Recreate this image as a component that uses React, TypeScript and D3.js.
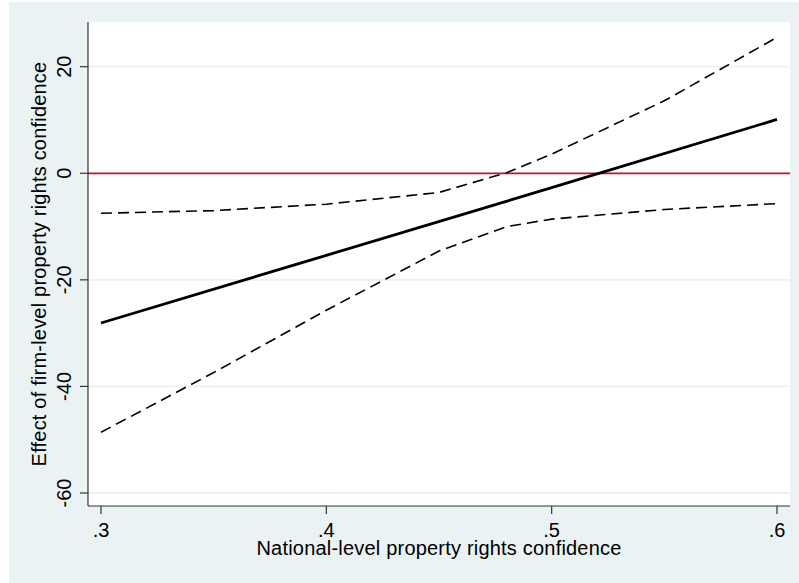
import React from "react";
import * as d3 from "d3";

const xTicks = [0.3, 0.4, 0.5, 0.6];
const xTickLabels = [".3", ".4", ".5", ".6"];
const yTicks = [20, 0, -20, -40, -60];
const yTickLabels = ["20", "0", "-20", "-40", "-60"];

const effectX = [0.3, 0.4, 0.5, 0.6];
const effectY = [-28.1, -15.4, -2.7, 10.1];

const upperX = [0.3, 0.35, 0.4, 0.45, 0.48, 0.5, 0.55, 0.6];
const upperY = [-7.5, -7.0, -5.8, -3.6, 0.1, 3.6, 13.6, 25.5];

const lowerX = [0.3, 0.35, 0.4, 0.45, 0.48, 0.5, 0.55, 0.6];
const lowerY = [-48.6, -37.4, -25.7, -14.6, -10.0, -8.6, -6.8, -5.7];

const refLine = [0];

const xTitle = "National-level property rights confidence";
const yTitle = "Effect of firm-level property rights confidence";

export default function App() {
  const W = 799;
  const H = 583;
  const left = 88, right = 790, top = 22, bottom = 506;
  const x = d3.scaleLinear().domain([0.3, 0.6]).range([101, 777]);
  const y = d3.scaleLinear().domain([-60, 20]).range([493, 66.7]);

  const line = d3
    .line<[number, number]>()
    .x((d) => x(d[0]))
    .y((d) => y(d[1]));

  const effect = effectX.map((v, i) => [v, effectY[i]] as [number, number]);
  const upper = upperX.map((v, i) => [v, upperY[i]] as [number, number]);
  const lower = lowerX.map((v, i) => [v, lowerY[i]] as [number, number]);

  const font = "'Liberation Sans', Arial, Helvetica, sans-serif";
  const axisColor = "#333333";

  return (
    <svg
      width={W}
      height={H}
      style={{ position: "absolute", left: 0, top: 0, fontFamily: font }}
    >
      <rect x={0} y={0} width={W} height={H} fill="#ffffff" />
      <rect x={9} y={2} width={W - 9} height={H - 2} fill="#eaf2f3" />
      <rect x={left} y={top} width={right - left} height={bottom - top} fill="#ffffff" />

      {yTicks.map((t) => (
        <line
          key={"g" + t}
          x1={left}
          x2={right}
          y1={y(t)}
          y2={y(t)}
          stroke="#eaf2f3"
          strokeWidth={1.8}
        />
      ))}

      {refLine.map((r) => (
        <line
          key={"r" + r}
          x1={left}
          x2={right}
          y1={y(r)}
          y2={y(r)}
          stroke="#c1143a"
          strokeWidth={1.8}
        />
      ))}

      <path d={line(upper) || ""} fill="none" stroke="#000" strokeWidth={1.6} strokeDasharray="11,6" />
      <path d={line(lower) || ""} fill="none" stroke="#000" strokeWidth={1.6} strokeDasharray="11,6" />
      <path d={line(effect) || ""} fill="none" stroke="#000" strokeWidth={2.8} />

      <line x1={left} x2={left} y1={top} y2={bottom} stroke={axisColor} strokeWidth={1.2} />
      <line x1={left} x2={right} y1={bottom} y2={bottom} stroke={axisColor} strokeWidth={1.2} />

      {yTicks.map((t, i) => (
        <g key={"yt" + t}>
          <line x1={80} x2={left} y1={y(t)} y2={y(t)} stroke={axisColor} strokeWidth={1.2} />
          <text
            transform={`translate(71,${y(t)}) rotate(-90)`}
            textAnchor="middle"
            fontSize={20}
            fill="#000"
          >
            {yTickLabels[i]}
          </text>
        </g>
      ))}

      {xTicks.map((t, i) => (
        <g key={"xt" + t}>
          <line x1={x(t)} x2={x(t)} y1={bottom} y2={514} stroke={axisColor} strokeWidth={1.2} />
          <text x={x(t)} y={537} textAnchor="middle" fontSize={20} fill="#000">
            {xTickLabels[i]}
          </text>
        </g>
      ))}

      <text
        x={(left + right) / 2}
        y={555}
        textAnchor="middle"
        fontSize={20}
        letterSpacing={0.2}
        fill="#000"
      >
        {xTitle}
      </text>
      <text
        transform={`translate(46,${(top + bottom) / 2}) rotate(-90)`}
        textAnchor="middle"
        fontSize={20}
        letterSpacing={0.2}
        fill="#000"
      >
        {yTitle}
      </text>
    </svg>
  );
}
